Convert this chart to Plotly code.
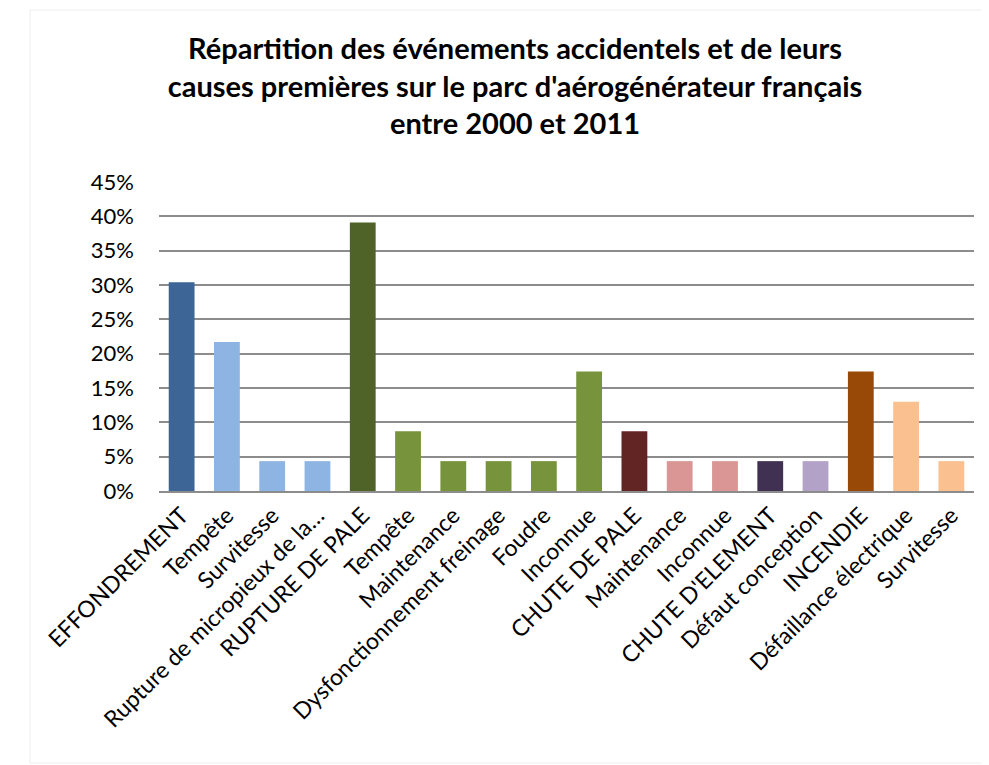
import plotly.graph_objects as go

categories = ["EFFONDREMENT", "Tempête", "Survitesse", "Rupture de micropieux de la…",
              "RUPTURE DE PALE", "Tempête", "Maintenance", "Dysfonctionnement freinage",
              "Foudre", "Inconnue", "CHUTE DE PALE", "Maintenance", "Inconnue",
              "CHUTE D'ELEMENT", "Défaut conception", "INCENDIE", "Défaillance électrique",
              "Survitesse"]
values = [0.304, 0.217, 0.0435, 0.0435, 0.391, 0.087, 0.0435, 0.0435, 0.0435, 0.174,
          0.087, 0.0435, 0.0435, 0.0435, 0.0435, 0.174, 0.13, 0.0435]
colors = ["#3D6697", "#8EB4E3", "#8EB4E3", "#8EB4E3", "#4F6228", "#77933C", "#77933C",
          "#77933C", "#77933C", "#77933C", "#632523", "#D99694", "#D99694", "#403152",
          "#B3A2C7", "#984807", "#FAC090", "#FAC090"]
y_ticks = [0, 0.05, 0.10, 0.15, 0.20, 0.25, 0.30, 0.35, 0.40, 0.45]
y_labels = ["0%", "5%", "10%", "15%", "20%", "25%", "30%", "35%", "40%", "45%"]

x_pos = list(range(len(categories)))

W, H = 981, 757

fig = go.Figure(go.Bar(x=x_pos, y=values, marker=dict(color=colors, line=dict(width=0)),
                       width=0.57, hoverinfo="y"))

fig.update_layout(
    width=W, height=H,
    paper_bgcolor="white", plot_bgcolor="white",
    margin=dict(l=151, r=15, t=174, b=274),
    showlegend=False,
    font=dict(family="Lato, 'Open Sans', sans-serif", color="black"),
    title=dict(
        text="<b>Répartition des événements accidentels et de leurs<br>causes premières sur le parc d'aérogénérateur français<br>entre 2000 et 2011</b>",
        x=507 / W, xanchor="center", xref="container",
        y=1 - 51 / H, yanchor="middle", yref="container",
        font=dict(size=29, family="Lato, 'Open Sans', sans-serif", color="black"),
    ),
    xaxis=dict(
        tickmode="array", tickvals=x_pos, ticktext=categories,
        tickangle=-45, tickfont=dict(size=23),
        range=[-0.5, len(categories) - 0.5],
        showgrid=False, showline=True, linecolor="#8c8c8c", linewidth=2,
        ticks="", zeroline=False,
    ),
    yaxis=dict(
        tickmode="array", tickvals=y_ticks, ticktext=y_labels,
        range=[0, 0.45], tickfont=dict(size=22),
        showgrid=True, gridcolor="#8c8c8c", gridwidth=2,
        zeroline=False, showline=False, ticks="", ticklen=0,
        ticklabelstandoff=24,
    ),
    shapes=[dict(type="rect", xref="paper", yref="paper", layer="below",
                 x0=-129 / 815, x1=1.03, y0=-272 / 309, y1=1 + 172 / 309,
                 line=dict(color="#eeeeee", width=1), fillcolor="rgba(0,0,0,0)")],
)

fig.write_html("out.html")
